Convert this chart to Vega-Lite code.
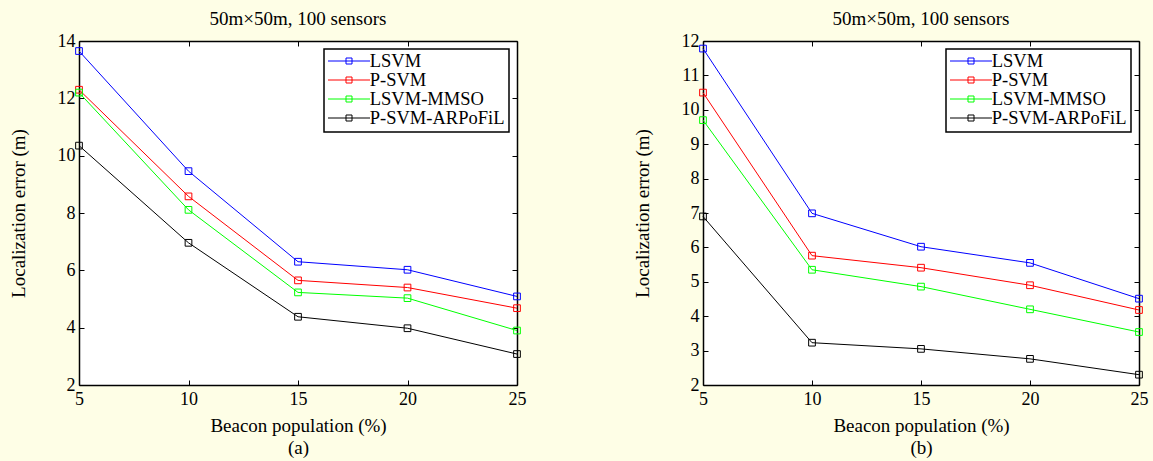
{
  "$schema": "https://vega.github.io/schema/vega-lite/v6.json",
  "background": "#FEFEE6",
  "padding": {"left": 9, "top": 10, "right": 5, "bottom": 4},
  "datasets": {
    "a": [
      {"beacon": 5, "error": 13.65, "method": "LSVM"},
      {"beacon": 10, "error": 9.46, "method": "LSVM"},
      {"beacon": 15, "error": 6.30, "method": "LSVM"},
      {"beacon": 20, "error": 6.02, "method": "LSVM"},
      {"beacon": 25, "error": 5.09, "method": "LSVM"},
      {"beacon": 5, "error": 12.3, "method": "P-SVM"},
      {"beacon": 10, "error": 8.58, "method": "P-SVM"},
      {"beacon": 15, "error": 5.65, "method": "P-SVM"},
      {"beacon": 20, "error": 5.40, "method": "P-SVM"},
      {"beacon": 25, "error": 4.68, "method": "P-SVM"},
      {"beacon": 5, "error": 12.2, "method": "LSVM-MMSO"},
      {"beacon": 10, "error": 8.11, "method": "LSVM-MMSO"},
      {"beacon": 15, "error": 5.23, "method": "LSVM-MMSO"},
      {"beacon": 20, "error": 5.03, "method": "LSVM-MMSO"},
      {"beacon": 25, "error": 3.90, "method": "LSVM-MMSO"},
      {"beacon": 5, "error": 10.35, "method": "P-SVM-ARPoFiL"},
      {"beacon": 10, "error": 6.96, "method": "P-SVM-ARPoFiL"},
      {"beacon": 15, "error": 4.38, "method": "P-SVM-ARPoFiL"},
      {"beacon": 20, "error": 3.98, "method": "P-SVM-ARPoFiL"},
      {"beacon": 25, "error": 3.08, "method": "P-SVM-ARPoFiL"}
    ],
    "b": [
      {"beacon": 5, "error": 11.78, "method": "LSVM"},
      {"beacon": 10, "error": 6.99, "method": "LSVM"},
      {"beacon": 15, "error": 6.02, "method": "LSVM"},
      {"beacon": 20, "error": 5.55, "method": "LSVM"},
      {"beacon": 25, "error": 4.51, "method": "LSVM"},
      {"beacon": 5, "error": 10.50, "method": "P-SVM"},
      {"beacon": 10, "error": 5.76, "method": "P-SVM"},
      {"beacon": 15, "error": 5.41, "method": "P-SVM"},
      {"beacon": 20, "error": 4.90, "method": "P-SVM"},
      {"beacon": 25, "error": 4.18, "method": "P-SVM"},
      {"beacon": 5, "error": 9.70, "method": "LSVM-MMSO"},
      {"beacon": 10, "error": 5.35, "method": "LSVM-MMSO"},
      {"beacon": 15, "error": 4.86, "method": "LSVM-MMSO"},
      {"beacon": 20, "error": 4.20, "method": "LSVM-MMSO"},
      {"beacon": 25, "error": 3.54, "method": "LSVM-MMSO"},
      {"beacon": 5, "error": 6.90, "method": "P-SVM-ARPoFiL"},
      {"beacon": 10, "error": 3.23, "method": "P-SVM-ARPoFiL"},
      {"beacon": 15, "error": 3.05, "method": "P-SVM-ARPoFiL"},
      {"beacon": 20, "error": 2.76, "method": "P-SVM-ARPoFiL"},
      {"beacon": 25, "error": 2.30, "method": "P-SVM-ARPoFiL"}
    ]
  },
  "spacing": 107,
  "hconcat": [
    {
      "title": {"text": "50m×50m, 100 sensors"},
      "width": 438,
      "height": 344,
      "data": {"name": "a"},
      "layer": [
        {
          "mark": {"type": "line", "strokeWidth": 1, "point": {"shape": "square", "filled": false, "size": 45, "strokeWidth": 1}},
          "encoding": {
            "x": {"field": "beacon", "type": "quantitative", "scale": {"domain": [5, 25], "nice": false}, "axis": {"orient": "bottom", "values": [5, 10, 15, 20, 25], "title": ["Beacon population (%)", "(a)"]}},
            "y": {"field": "error", "type": "quantitative", "scale": {"domain": [2, 14], "nice": false}, "axis": {"orient": "left", "values": [2, 4, 6, 8, 10, 12, 14], "title": "Localization error (m)"}},
            "color": {"field": "method", "type": "nominal", "sort": null,
              "scale": {"domain": ["LSVM", "P-SVM", "LSVM-MMSO", "P-SVM-ARPoFiL"], "range": ["#0000FF", "#FF0000", "#00FF00", "#000000"]},
              "legend": {"title": null, "orient": "top-right", "offset": 8}}
          }
        },
        {
          "mark": {"type": "point", "opacity": 0},
          "encoding": {
            "x": {"field": "beacon", "type": "quantitative", "axis": {"orient": "top", "values": [5, 10, 15, 20, 25], "labels": false, "title": null}},
            "y": {"field": "error", "type": "quantitative", "axis": {"orient": "right", "values": [2, 4, 6, 8, 10, 12, 14], "labels": false, "title": null}}
          }
        }
      ],
      "resolve": {"axis": {"x": "independent", "y": "independent"}}
    },
    {
      "title": {"text": "50m×50m, 100 sensors"},
      "width": 436,
      "height": 344,
      "data": {"name": "b"},
      "layer": [
        {
          "mark": {"type": "line", "strokeWidth": 1, "point": {"shape": "square", "filled": false, "size": 45, "strokeWidth": 1}},
          "encoding": {
            "x": {"field": "beacon", "type": "quantitative", "scale": {"domain": [5, 25], "nice": false}, "axis": {"orient": "bottom", "values": [5, 10, 15, 20, 25], "title": ["Beacon population (%)", "(b)"]}},
            "y": {"field": "error", "type": "quantitative", "scale": {"domain": [2, 12], "nice": false}, "axis": {"orient": "left", "values": [2, 3, 4, 5, 6, 7, 8, 9, 10, 11, 12], "title": "Localization error (m)"}},
            "color": {"field": "method", "type": "nominal", "sort": null,
              "scale": {"domain": ["LSVM", "P-SVM", "LSVM-MMSO", "P-SVM-ARPoFiL"], "range": ["#0000FF", "#FF0000", "#00FF00", "#000000"]},
              "legend": {"title": null, "orient": "top-right", "offset": 8}}
          }
        },
        {
          "mark": {"type": "point", "opacity": 0},
          "encoding": {
            "x": {"field": "beacon", "type": "quantitative", "axis": {"orient": "top", "values": [5, 10, 15, 20, 25], "labels": false, "title": null}},
            "y": {"field": "error", "type": "quantitative", "axis": {"orient": "right", "values": [2, 3, 4, 5, 6, 7, 8, 9, 10, 11, 12], "labels": false, "title": null}}
          }
        }
      ],
      "resolve": {"axis": {"x": "independent", "y": "independent"}}
    }
  ],
  "resolve": {"scale": {"color": "independent"}, "legend": {"color": "independent"}},
  "config": {
    "font": "Liberation Serif",
    "view": {"stroke": null, "fill": "#FFFFFF"},
    "title": {"font": "Liberation Serif", "fontSize": 19, "fontWeight": "normal", "color": "#000000", "offset": 3},
    "axis": {
      "grid": false,
      "labelFont": "Liberation Serif",
      "labelFontSize": 18,
      "labelColor": "#000000",
      "labelFlush": false,
      "labelOverlap": false,
      "titleFont": "Liberation Serif",
      "titleFontSize": 19,
      "titleFontWeight": "normal",
      "titleColor": "#000000",
      "domainColor": "#000000",
      "domainWidth": 1.5,
      "tickColor": "#000000",
      "tickSize": -5,
      "tickWidth": 1
    },
    "axisBottom": {"labelPadding": 10, "titlePadding": 8, "titleLineHeight": 22},
    "axisLeft": {"labelPadding": 9, "titlePadding": 29},
    "legend": {
      "labelFont": "Liberation Serif",
      "labelFontSize": 18.5,
      "labelColor": "#000000",
      "fillColor": "#FFFFFF",
      "strokeColor": "#000000",
      "strokeWidth": 1.5,
      "padding": 4,
      "rowPadding": 0,
      "clipHeight": 16,
      "symbolType": "M-7,0H7M-1,-1H1V1H-1Z",
      "symbolSize": 36,
      "symbolOffset": 11.75,
      "symbolStrokeWidth": 1,
      "symbolFillColor": "transparent",
      "labelOffset": 11.5
    }
  }
}
